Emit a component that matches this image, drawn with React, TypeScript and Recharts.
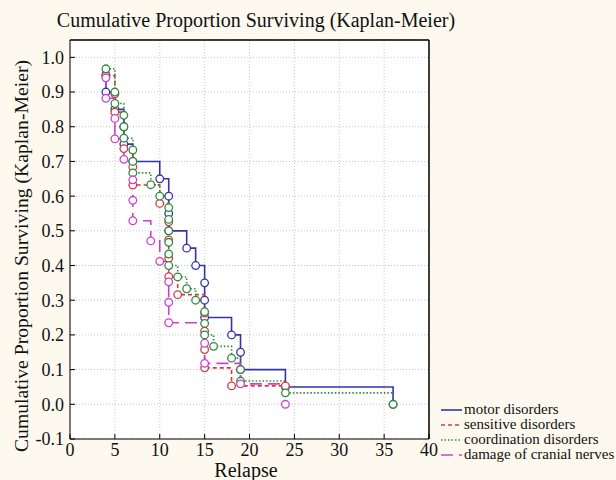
import React from 'react';
import { ComposedChart, Line, XAxis, YAxis, CartesianGrid, Legend, ReferenceLine } from 'recharts';

// Kaplan-Meier steps (time in relapses, proportion surviving)
const motorTimes = [4, 4, 5, 6, 6, 7, 10, 11, 11, 11, 13, 14, 15, 15, 15, 18, 19, 19, 24, 36];
const motorSurv = [0.95, 0.9, 0.85, 0.8, 0.75, 0.7, 0.65, 0.6, 0.55, 0.5, 0.45, 0.4, 0.35, 0.3, 0.25, 0.2, 0.15, 0.1, 0.05, 0];

const sensitiveTimes = [4, 5, 5, 6, 7, 7, 10, 11, 11, 11, 11, 12, 15, 15, 15, 15, 18, 24];
const sensitiveSurv = [0.947, 0.895, 0.842, 0.737, 0.684, 0.632, 0.579, 0.526, 0.474, 0.421, 0.368, 0.316, 0.263, 0.211, 0.158, 0.105, 0.053, 0.053];

const coordTimes = [4, 5, 5, 6, 6, 6, 7, 7, 7, 9, 10, 11, 11, 11, 11, 11, 11, 12, 13, 14, 15, 15, 15, 16, 18, 19, 19, 24, 36];
const coordSurv = [0.967, 0.9, 0.867, 0.833, 0.8, 0.767, 0.733, 0.7, 0.667, 0.633, 0.6, 0.567, 0.533, 0.5, 0.467, 0.433, 0.4, 0.367, 0.333, 0.3, 0.267, 0.233, 0.2, 0.167, 0.133, 0.1, 0.067, 0.033, 0];

const cranialTimes = [4, 4, 5, 5, 6, 7, 7, 7, 9, 10, 11, 11, 11, 15, 15, 19, 24];
const cranialSurv = [0.941, 0.882, 0.824, 0.765, 0.706, 0.647, 0.588, 0.529, 0.471, 0.412, 0.353, 0.294, 0.235, 0.176, 0.118, 0.059, 0];

const xTicks = [0, 5, 10, 15, 20, 25, 30, 35, 40];
const yTicks = [-0.1, 0, 0.1, 0.2, 0.3, 0.4, 0.5, 0.6, 0.7, 0.8, 0.9, 1.0];

const title = 'Cumulative Proportion Surviving (Kaplan-Meier)';
const xTitle = 'Relapse';

const toRows = (t: number[], s: number[]) => t.map((v, i) => ({ t: v, s: s[i] }));

const series = [
    { name: 'motor disorders', data: toRows(motorTimes, motorSurv), color: '#3434a8', dash: undefined },
    { name: 'sensitive disorders', data: toRows(sensitiveTimes, sensitiveSurv), color: '#d23c3c', dash: '4 3' },
    { name: 'coordination disorders', data: toRows(coordTimes, coordSurv), color: '#2f8a3c', dash: '1.5 2' },
    { name: 'damage of cranial nerves', data: toRows(cranialTimes, cranialSurv), color: '#cf3fcf', dash: '12 6' },
];

const FONT = '"Liberation Serif", "Times New Roman", serif';

const makeDot = (color: string) => (props: any) => {
    const { cx, cy, index } = props;
    return <circle key={`d-${index}`} cx={cx} cy={cy} r={3.8} fill="#fff" stroke={color} strokeWidth={1.3} />;
};

const YTitle = () => (
    <text x={21} y={256} transform="rotate(-90 21 256)" textAnchor="middle" dominantBaseline="central"
        fontFamily={FONT} fontSize={19.7} fill="#111">{title}</text>
);

const XTitle = () => (
    <text x={246} y={477} textAnchor="middle" fontFamily={FONT} fontSize={20} fill="#111">{xTitle}</text>
);

const LegendBox = () => (
    <div style={{ fontFamily: FONT, fontSize: 15, color: '#111' }}>
        {series.map((s) => (
            <div key={s.name} style={{ height: 15, lineHeight: '15px', whiteSpace: 'nowrap', display: 'flex', alignItems: 'center' }}>
                <svg width={23} height={10} style={{ marginRight: 1 }}>
                    <line x1={1} y1={5} x2={22} y2={5} stroke={s.color} strokeWidth={1.6} strokeDasharray={s.dash} />
                </svg>
                <span>{s.name}</span>
            </div>
        ))}
    </div>
);

const tickStyle = { fontFamily: FONT, fontSize: 18, fill: '#111' };

export default function App() {
    return (
        <div style={{ position: 'absolute', left: 0, top: 0, width: 616, height: 480, background: '#fdf9ef' }}>
            <div style={{ position: 'absolute', left: 0, top: 8, width: 512, textAlign: 'center', fontFamily: FONT,
                fontSize: 20, lineHeight: '24px', color: '#111' }}>{title}</div>
            <ComposedChart width={616} height={480} margin={{ top: 39, right: 186, bottom: 0, left: 0 }}>
                <CartesianGrid fill="#fff" stroke="#c8c8c8" strokeDasharray="1 2" />
                <XAxis type="number" dataKey="t" domain={[0, 40]} ticks={xTicks} allowDataOverflow
                    height={41} stroke="#000" tickSize={-5} tickMargin={9} tick={tickStyle}
                    label={<XTitle />} />
                <XAxis xAxisId="top" orientation="top" type="number" domain={[0, 40]} ticks={xTicks}
                    height={1} stroke="#000" tickSize={-5} tick={false} />
                <YAxis type="number" domain={[-0.1, 1.05]} ticks={yTicks} allowDataOverflow
                    width={70} stroke="#000" tickSize={-5} tickMargin={11} tick={tickStyle}
                    tickFormatter={(v: number) => v.toFixed(1)} label={<YTitle />} />
                <YAxis yAxisId="right" orientation="right" type="number" domain={[-0.1, 1.05]} ticks={yTicks}
                    width={1} stroke="#000" tickSize={-5} tick={false} />
                <ReferenceLine y={1.05} stroke="#000" />
                <ReferenceLine x={40} stroke="#000" />
                <Legend layout="vertical" align="center" verticalAlign="middle" content={<LegendBox />}
                    wrapperStyle={{ left: 440, top: 402, width: 176 }} />
                {series.map((s) => (
                    <Line key={s.name} name={s.name} data={s.data} dataKey="s" type="stepAfter"
                        stroke={s.color} strokeWidth={1.6} strokeDasharray={s.dash}
                        dot={makeDot(s.color)} activeDot={false} isAnimationActive={false} />
                ))}
            </ComposedChart>
        </div>
    );
}
